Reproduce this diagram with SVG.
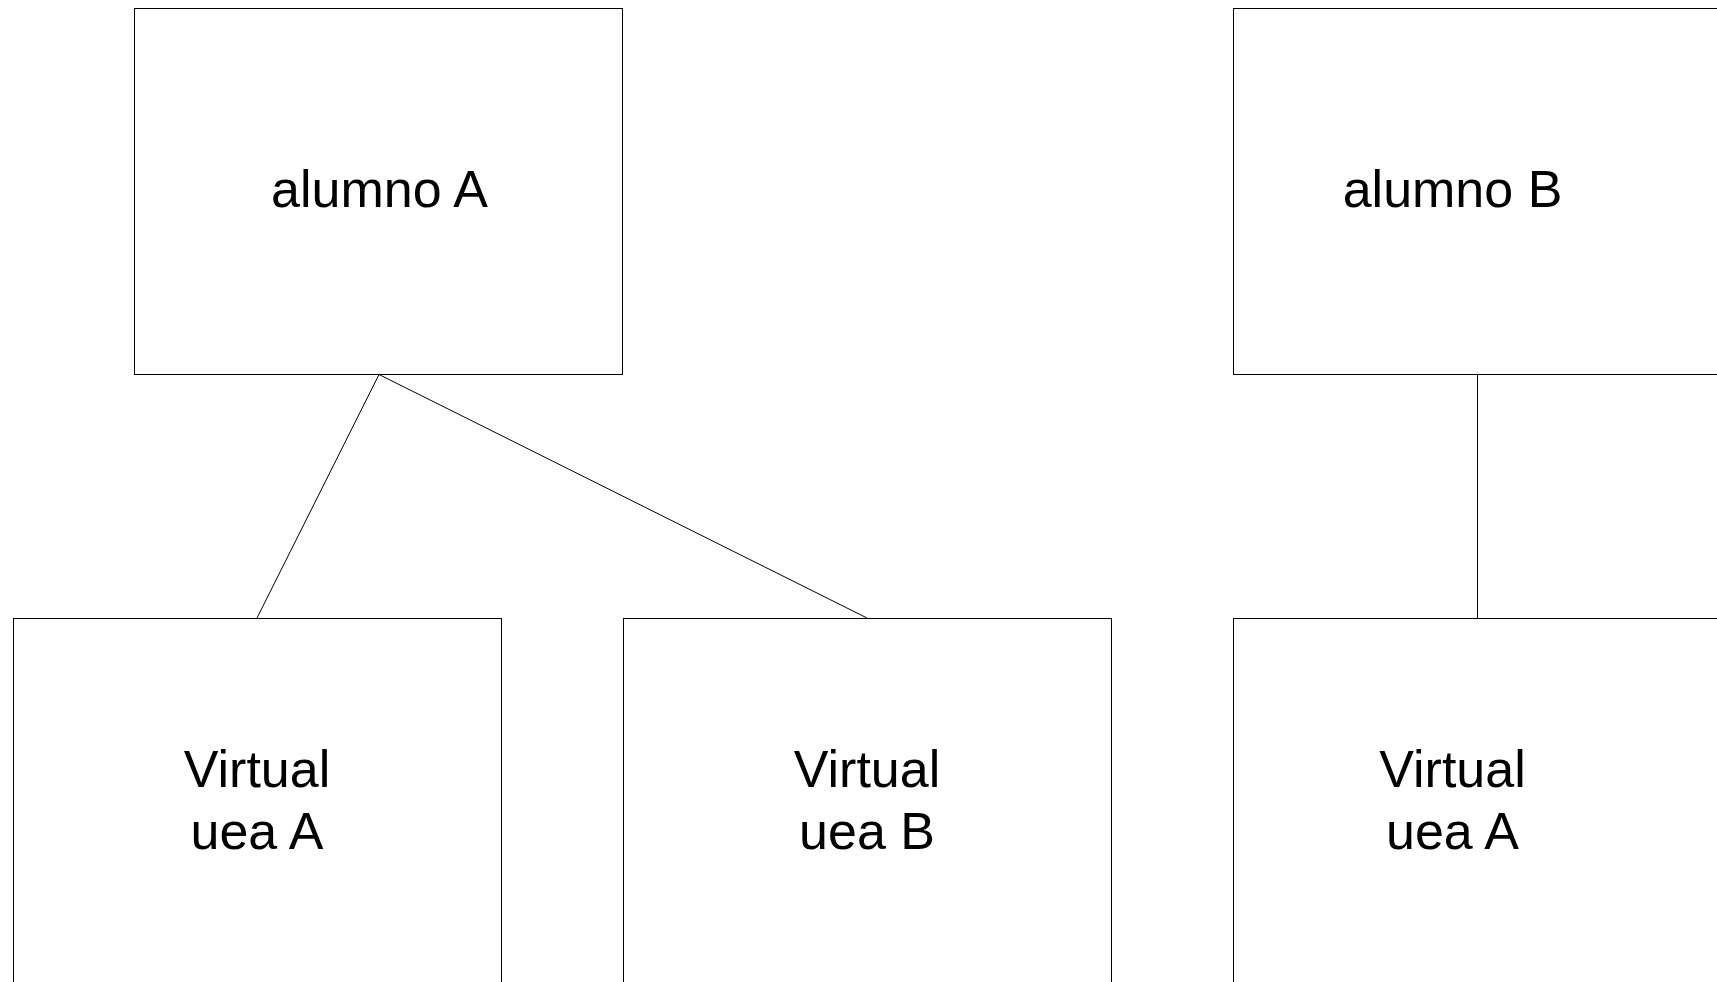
<svg xmlns="http://www.w3.org/2000/svg" width="1717" height="982" viewBox="0 0 1717 982">
<style>
.box{fill:#fff;stroke:#000;stroke-width:1}
.lbl{font-family:"Liberation Sans",Arial,sans-serif;font-size:52px;fill:#000;text-anchor:middle}
.conn{stroke:#000;stroke-width:1;fill:none}
</style>
<rect x="0" y="0" width="1717" height="982" fill="#fff"/>
<g id="connectors">
<line class="conn" x1="379" y1="374.5" x2="257" y2="618"/>
<line class="conn" x1="379" y1="374.5" x2="867" y2="618"/>
<line class="conn" x1="1477.5" y1="374.5" x2="1477.5" y2="618"/>
</g>
<g id="alumnoA">
<rect class="box" x="134.5" y="8.5" width="488" height="366"/>
<text class="lbl" x="379.5" y="206.5">alumno A</text>
</g>
<g id="alumnoB">
<rect class="box" x="1233.5" y="8.5" width="488" height="366"/>
<text class="lbl" x="1452.5" y="206.5">alumno B</text>
</g>
<g id="virtualUeaA1">
<rect class="box" x="13.5" y="618.5" width="488" height="400"/>
<text class="lbl" x="257" y="786.5">Virtual</text>
<text class="lbl" x="257" y="848.5">uea A</text>
</g>
<g id="virtualUeaB">
<rect class="box" x="623.5" y="618.5" width="488" height="400"/>
<text class="lbl" x="867" y="786.5">Virtual</text>
<text class="lbl" x="867" y="848.5">uea B</text>
</g>
<g id="virtualUeaA2">
<rect class="box" x="1233.5" y="618.5" width="488" height="400"/>
<text class="lbl" x="1452.5" y="786.5">Virtual</text>
<text class="lbl" x="1452.5" y="848.5">uea A</text>
</g>
</svg>
